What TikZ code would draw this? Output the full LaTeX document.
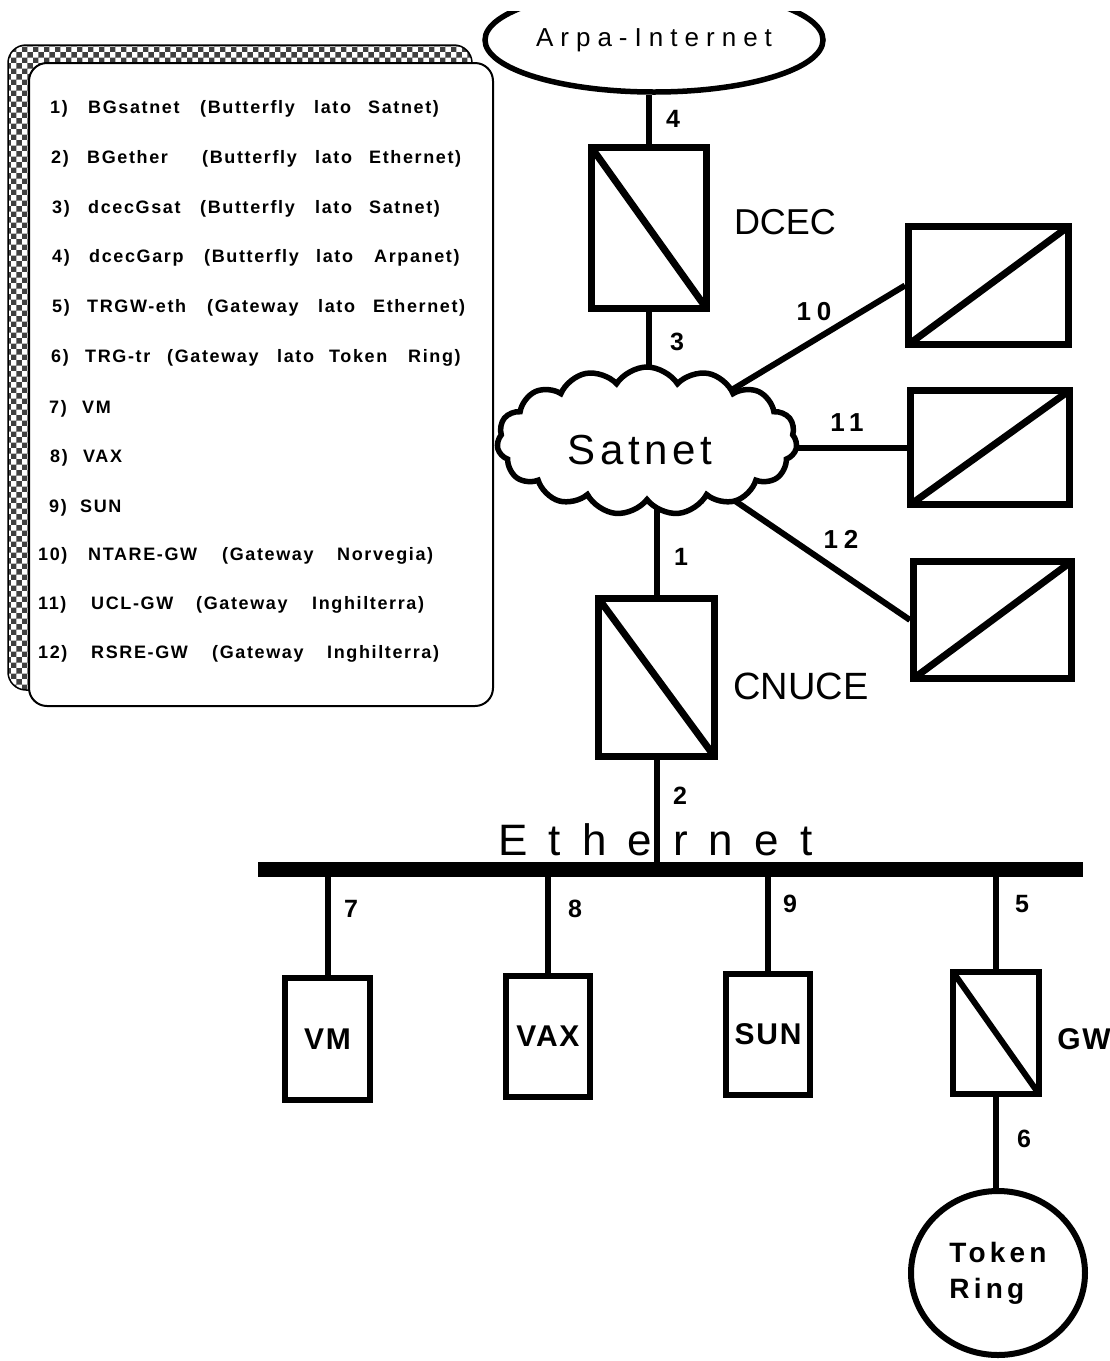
\documentclass[tikz,border=0pt]{standalone}
\usepackage{fontspec}
\setmainfont{Liberation Sans}
\usetikzlibrary{shapes.geometric,shapes.symbols,patterns}
\pgfdeclarelayer{bg}
\pgfsetlayers{bg,main}
\newcommand{\lsp}[1]{\addfontfeature{LetterSpace=#1}}
\newcommand{\lw}[4]{\node[leg] (#1) at (#2,#3) {#4};}
\begin{document}
\begin{tikzpicture}[x=1pt,y=-1pt,
  wire/.style={line width=6pt},
  gbox/.style={draw, line width=7pt, inner sep=0pt, fill=white},
  host/.style={draw, line width=6pt, inner sep=0pt, fill=white, font={\fontsize{30}{36}\selectfont\bfseries\lsp{6}}},
  num/.style={inner sep=0pt, font={\fontsize{25}{30}\selectfont\bfseries}},
  bignum/.style={inner sep=0pt, font={\fontsize{26}{30}\selectfont\bfseries\lsp{22}}},
  site/.style={inner sep=0pt, font={\fontsize{36}{42}\selectfont}},
  leg/.style={inner sep=0pt, anchor=base west, font={\fontsize{18}{21}\selectfont\bfseries\lsp{9}}},
  diag/.style={line width=7pt}
]
\useasboundingbox (0,0) rectangle (1110,1361);
\begin{pgfonlayer}{bg}
  \fill[white] (0,0) rectangle (1110,1361);
\end{pgfonlayer}

% ---------- legend ----------
\path[draw, line width=1.5pt, pattern=checkerboard, pattern color=black!75, rounded corners=18pt]
  (8,45) rectangle (472,690);
\node[draw, line width=2pt, fill=white, rounded corners=18pt, inner sep=0pt,
      minimum width=464pt, minimum height=643pt, anchor=north west] (legend) at (28,62) {};

\lw{a1}{50}{113}{1)} \lw{a2}{88}{113}{BGsatnet} \lw{a3}{200}{113}{(Butterfly} \lw{a4}{314}{113}{lato} \lw{a5}{368}{113}{Satnet)}
\lw{b1}{51}{163}{2)} \lw{b2}{87}{163}{BGether} \lw{b3}{202}{163}{(Butterfly} \lw{b4}{315}{163}{lato} \lw{b5}{369}{163}{Ethernet)}
\lw{c1}{52}{213}{3)} \lw{c2}{88}{213}{dcecGsat} \lw{c3}{200}{213}{(Butterfly} \lw{c4}{315}{213}{lato} \lw{c5}{369}{213}{Satnet)}
\lw{d1}{52}{262}{4)} \lw{d2}{89}{262}{dcecGarp} \lw{d3}{204}{262}{(Butterfly} \lw{d4}{316}{262}{lato} \lw{d5}{374}{262}{Arpanet)}
\lw{e1}{52}{312}{5)} \lw{e2}{87}{312}{TRGW-eth} \lw{e3}{207}{312}{(Gateway} \lw{e4}{318}{312}{lato} \lw{e5}{373}{312}{Ethernet)}
\lw{f1}{51}{362}{6)} \lw{f2}{85}{362}{TRG-tr} \lw{f3}{167}{362}{(Gateway} \lw{f4}{277}{362}{lato} \lw{f5}{329}{362}{Token} \lw{f6}{408}{362}{Ring)}
\lw{g1}{49}{413}{7)} \lw{g2}{82}{413}{VM}
\lw{h1}{50}{462}{8)} \lw{h2}{83}{462}{VAX}
\lw{i1}{49}{512}{9)} \lw{i2}{80}{512}{SUN}
\lw{j1}{38}{560}{10)} \lw{j2}{88}{560}{NTARE-GW} \lw{j3}{222}{560}{(Gateway} \lw{j4}{337}{560}{Norvegia)}
\lw{k1}{38}{609}{11)} \lw{k2}{91}{609}{UCL-GW} \lw{k3}{196}{609}{(Gateway} \lw{k4}{312}{609}{Inghilterra)}
\lw{l1}{38}{658}{12)} \lw{l2}{91}{658}{RSRE-GW} \lw{l3}{212}{658}{(Gateway} \lw{l4}{327}{658}{Inghilterra)}

% ---------- network nodes ----------
\begin{scope}
  \clip (0,11) rectangle (1110,200);
  \node[draw, ellipse, line width=5.5pt, fill=white, inner sep=0pt,
        minimum width=338pt, minimum height=104pt,
        font={\fontsize{26}{30}\selectfont\lsp{27}}] (arpa) at (654,40) {Arpa-Internet};
\end{scope}

\node[gbox, minimum width=115pt, minimum height=161pt] (dcec) at (649,228) {};
\node[gbox, minimum width=116pt, minimum height=158pt] (cnuce) at (656.5,677.5) {};
\node[gbox, minimum width=160pt, minimum height=118pt] (b10) at (988.5,285.5) {};
\node[gbox, minimum width=159pt, minimum height=114pt] (b11) at (990,447.5) {};
\node[gbox, minimum width=158pt, minimum height=117pt] (b12) at (992.5,620) {};
\node[gbox, line width=6pt, minimum width=86pt, minimum height=122pt] (gw) at (996,1033) {};

\node[cloud, cloud puffs=15, cloud puff arc=115, aspect=2, draw, fill=white, line width=5.5pt,
      inner sep=0pt, minimum width=300pt, minimum height=148pt] (sat) at (647,441) {};
\node[inner sep=0pt, font={\fontsize{42}{48}\selectfont\lsp{11}}] (satlbl) at (640,450) {Satnet};

\node[fill=black, inner sep=0pt, minimum width=825pt, minimum height=15pt] (eth) at (670.5,869.5) {};
\node[inner sep=0pt, anchor=base west, font={\fontsize{44}{50}\selectfont\lsp{48}}] (ethlbl) at (498,855) {Ethernet};

\node[host, minimum width=85pt, minimum height=122pt] (vm) at (327.5,1039) {VM};
\node[host, minimum width=84pt, minimum height=121pt] (vax) at (548,1036.5) {VAX};
\node[host, minimum width=84pt, minimum height=121pt] (sun) at (768,1034.5) {SUN};

\node[draw, ellipse, line width=6pt, fill=white, inner sep=0pt, minimum width=174pt, minimum height=164pt,
      align=left, font={\fontsize{28}{36}\selectfont\bfseries\lsp{15}}] (tr) at (998,1273) {Token\\Ring};

% diagonals (inner corner to inner corner)
\draw[diag] ([shift={(3.5,3.5)}]dcec.north west) -- ([shift={(-3.5,-3.5)}]dcec.south east);
\draw[diag] ([shift={(3.5,3.5)}]cnuce.north west) -- ([shift={(-3.5,-3.5)}]cnuce.south east);
\draw[diag] ([shift={(3.5,-3.5)}]b10.south west) -- ([shift={(-3.5,3.5)}]b10.north east);
\draw[diag] ([shift={(3.5,-3.5)}]b11.south west) -- ([shift={(-3.5,3.5)}]b11.north east);
\draw[diag] ([shift={(3.5,-3.5)}]b12.south west) -- ([shift={(-3.5,3.5)}]b12.north east);
\draw[diag, line width=6pt] ([shift={(3,3)}]gw.north west) -- ([shift={(-3,-3)}]gw.south east);

% labels
\node[site] (dceclbl) at (785,222) {DCEC};
\node[site, font={\fontsize{38}{44}\selectfont}] (cnucelbl) at (801,686) {CNUCE};
\node[host, draw=none, fill=none] (gwlbl) at (1084,1039) {GW};
\node[num] (n4) at (673,119) {4};
\node[num] (n3) at (677,342) {3};
\node[num] (n1) at (681,557) {1};
\node[num] (n2) at (680,796) {2};
\node[num] (n7) at (351,909) {7};
\node[num] (n8) at (575,909) {8};
\node[num] (n9) at (790,904) {9};
\node[num] (n5) at (1022,904) {5};
\node[num] (n6) at (1024,1139) {6};
\node[bignum] (n10) at (814,312) {10};
\node[bignum] (n11) at (847,423) {11};
\node[bignum] (n12) at (841,539) {12};

% ---------- connectors ----------
\begin{pgfonlayer}{bg}
  \draw[wire] (dcec.north) -- (dcec.north |- arpa.south);
  \draw[wire] (dcec.south) -- (dcec.south |- sat.center);
  \draw[wire] (cnuce.north) -- (cnuce.north |- sat.center);
  \draw[wire] (cnuce.south) -- (cnuce.south |- eth.center);
  \draw[wire] (sat.center) -- (b10.west);
  \draw[wire] (b11.west) -- (b11.west -| sat.center);
  \draw[wire] (sat.center) -- (b12.west);
  \draw[wire] (vm.north) -- (vm.north |- eth.center);
  \draw[wire] (vax.north) -- (vax.north |- eth.center);
  \draw[wire] (sun.north) -- (sun.north |- eth.center);
  \draw[wire] (gw.north) -- (gw.north |- eth.center);
  \draw[wire] (gw.south) -- (gw.south |- tr.center);
\end{pgfonlayer}
\end{tikzpicture}
\end{document}
